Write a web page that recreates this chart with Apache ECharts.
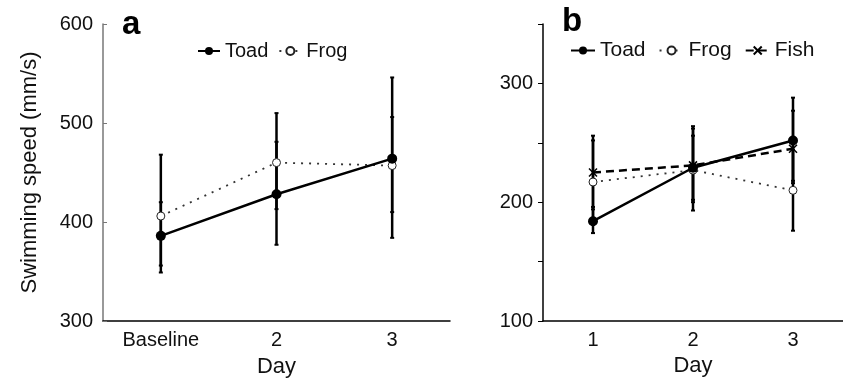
<!DOCTYPE html>
<html>
<head>
<meta charset="utf-8">
<script src="https://cdn.jsdelivr.net/npm/echarts@6/dist/echarts.min.js"></script>
<style>
  html, body { margin: 0; padding: 0; background: #fff; }
  #chart { width: 843px; height: 385px; }
</style>
</head>
<body>
<div id="chart"></div>
<script>
// panel a
const daysA = ['Baseline', '2', '3'];
const toadA = [386, 428, 464];
const frogA = [406, 460, 457];
const toadAErr = [[356, 420], [377, 481], [384, 546]];
const frogAErr = [[349, 468], [413, 510], [410, 506]];

// panel b
const daysB = ['1', '2', '3'];
const toadB = [184, 229, 252];
const frogB = [217, 227, 210];
const fishB = [225, 231, 245];
const toadBErr = [[174, 194], [193, 264], [216, 288]];
const frogBErr = [[181, 252], [202, 256], [176, 244]];
const fishBErr = [[196, 256], [200, 262], [218, 277]];

const font = "'Liberation Sans', Arial, Helvetica, sans-serif";

function errBar(params, api) {
  const i = api.value(0);
  const lo = api.coord([i, api.value(1)]);
  const hi = api.coord([i, api.value(2)]);
  const st = { stroke: '#000', lineWidth: 2.5 };
  return {
    type: 'group',
    children: [
      { type: 'line', shape: { x1: lo[0], y1: lo[1], x2: hi[0], y2: hi[1] }, style: st },
      { type: 'line', shape: { x1: lo[0] - 2, y1: lo[1], x2: lo[0] + 2, y2: lo[1] }, style: { stroke: '#000', lineWidth: 2 } },
      { type: 'line', shape: { x1: hi[0] - 2, y1: hi[1], x2: hi[0] + 2, y2: hi[1] }, style: { stroke: '#000', lineWidth: 2 } }
    ]
  };
}

const toErr = arr => arr.map((e, i) => [i, e[0], e[1]]);

function errSeries(arr, idx) {
  return {
    type: 'custom', xAxisIndex: idx, yAxisIndex: idx, z: 1, silent: true,
    renderItem: errBar, encode: { x: 0, y: [1, 2] }, data: toErr(arr)
  };
}

const toadStyle = {
  type: 'line', symbol: 'circle', symbolSize: 10, z: 5,
  lineStyle: { color: '#000', width: 2.5 },
  itemStyle: { color: '#000' }
};
const frogStyle = {
  type: 'line', symbol: 'circle', symbolSize: 8, z: 4,
  lineStyle: { color: '#333', width: 1.8, type: [2, 6] },
  itemStyle: { color: '#fff', borderColor: '#222', borderWidth: 1 }
};
const fishStyle = {
  type: 'line', symbol: 'path://M0,0L10,10M10,0L0,10', symbolSize: 8, z: 4,
  lineStyle: { color: '#000', width: 2.5, type: [8, 5] },
  itemStyle: { color: '#000', borderColor: '#000', borderWidth: 1.5 }
};

const chart = echarts.init(document.getElementById('chart'));

const option = {
  animation: false,
  textStyle: { fontFamily: font, color: '#111' },
  grid: [
    { left: 103, top: 24, width: 347, height: 297 },
    { left: 543, top: 24, width: 300, height: 297 }
  ],
  legend: [
    {
      data: ['Toad', 'Frog'], left: 192, top: 36, itemWidth: 22, itemHeight: 10, itemGap: 10,
      textStyle: { fontSize: 20, fontFamily: font, color: '#111' }
    },
    {
      data: ['Toad', 'Frog', 'Fish'], left: 565, top: 35, itemWidth: 24, itemHeight: 10, itemGap: 13,
      textStyle: { fontSize: 21, fontFamily: font, color: '#111' }
    }
  ],
  xAxis: [
    {
      type: 'category', gridIndex: 0, data: daysA, boundaryGap: true,
      axisLine: { lineStyle: { color: '#000', width: 1.5 } },
      axisTick: { alignWithLabel: true, inside: true, length: 5, lineStyle: { color: '#000' } },
      axisLabel: { fontSize: 20, margin: 9, color: '#111' },
      name: 'Day', nameLocation: 'middle', nameGap: 35,
      nameTextStyle: { fontSize: 22, color: '#111' }
    },
    {
      type: 'category', gridIndex: 1, data: daysB, boundaryGap: true,
      axisLine: { lineStyle: { color: '#000', width: 1.5 } },
      axisTick: { alignWithLabel: true, length: 6, lineStyle: { color: '#000' } },
      axisLabel: { fontSize: 20, margin: 9, color: '#111' },
      name: 'Day', nameLocation: 'middle', nameGap: 33,
      nameTextStyle: { fontSize: 22, color: '#111' }
    }
  ],
  yAxis: [
    {
      type: 'value', gridIndex: 0, min: 300, max: 600, interval: 100,
      axisLine: { show: true, lineStyle: { color: '#777', width: 1.5 } },
      axisTick: { show: true, inside: true, length: 4, lineStyle: { color: '#777' } },
      axisLabel: { fontSize: 20, margin: 10, color: '#111' },
      splitLine: { show: false },
      name: 'Swimming speed (mm/s)', nameLocation: 'middle', nameGap: 62,
      nameTextStyle: { fontSize: 22, color: '#111' }
    },
    {
      type: 'value', gridIndex: 1, min: 100, max: 350, interval: 50,
      axisLine: { show: true, lineStyle: { color: '#000', width: 1.5 } },
      axisTick: { show: true, length: 5, lineStyle: { color: '#000' } },
      axisLabel: {
        fontSize: 20, margin: 10, color: '#111',
        formatter: v => (v % 100 === 0 && v < 350 ? String(v) : '')
      },
      splitLine: { show: false }
    }
  ],
  graphic: [
    { type: 'text', left: 122, top: 8, style: { text: 'a', font: 'bold 33px ' + font, fill: '#000' } },
    { type: 'text', left: 562, top: 5, style: { text: 'b', font: 'bold 33px ' + font, fill: '#000' } }
  ],
  series: [
    errSeries(toadAErr, 0),
    errSeries(frogAErr, 0),
    Object.assign({ name: 'Toad', xAxisIndex: 0, yAxisIndex: 0, data: toadA }, toadStyle),
    Object.assign({ name: 'Frog', xAxisIndex: 0, yAxisIndex: 0, data: frogA }, frogStyle),
    errSeries(toadBErr, 1),
    errSeries(frogBErr, 1),
    errSeries(fishBErr, 1),
    Object.assign({ name: 'Toad', xAxisIndex: 1, yAxisIndex: 1, data: toadB }, toadStyle),
    Object.assign({ name: 'Frog', xAxisIndex: 1, yAxisIndex: 1, data: frogB }, frogStyle),
    Object.assign({ name: 'Fish', xAxisIndex: 1, yAxisIndex: 1, data: fishB }, fishStyle)
  ]
};

chart.setOption(option);
</script>
</body>
</html>
